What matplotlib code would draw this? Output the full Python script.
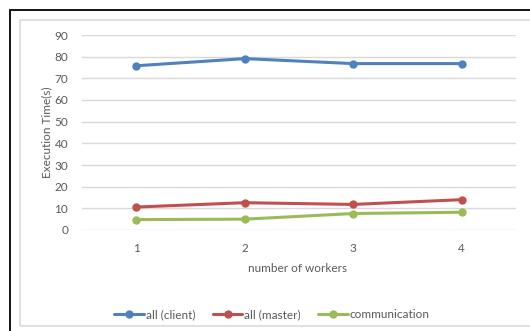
import matplotlib
matplotlib.use('Agg')
import matplotlib.pyplot as plt
from matplotlib.patches import Rectangle

# Execution time per number of workers
workers = [1, 2, 3, 4]
worker_labels = ['1', '2', '3', '4']
all_client = [75.8, 79.1, 76.8, 76.8]
all_master = [10.6, 12.6, 11.8, 14.0]
communication = [4.8, 5.0, 7.6, 8.2]
y_ticks = [0, 10, 20, 30, 40, 50, 60, 70, 80, 90]

plt.rcParams['font.family'] = ['Lato', 'DejaVu Sans']

W, H = 530, 331
fig = plt.figure(figsize=(W / 100, H / 100), dpi=100)

# chart frame: black outer border and light inner border
fig.patches.append(Rectangle((10 / W, -0.2), 1.2, (H - 10) / H + 0.2,
                             transform=fig.transFigure, fill=False,
                             edgecolor='black', linewidth=1.3))
fig.patches.append(Rectangle((19.5 / W, 5.5 / H), 1.2, (H - 25) / H,
                             transform=fig.transFigure, fill=False,
                             edgecolor='#d9d9d9', linewidth=1.2))

ax = fig.add_axes([82 / W, (H - 230) / H, (516 - 82) / W, (230 - 35) / H])

series = [
    (all_client, '#4f81bd', 'all (client)'),
    (all_master, '#c0504d', 'all (master)'),
    (communication, '#9bbb59', 'communication'),
]
for values, color, label in series:
    ax.plot(workers, values, color=color, linewidth=2.2, marker='o',
            markersize=5, label=label, solid_capstyle='round')

ax.set_xlim(0.5, 4.5)
ax.set_ylim(0, 90)
ax.set_yticks(y_ticks)
ax.set_xticks(workers)
ax.set_xticklabels(worker_labels)
ax.grid(axis='y', color='#d9d9d9', linewidth=1)
ax.set_axisbelow(True)
for s in ax.spines.values():
    s.set_visible(False)
ax.tick_params(length=0, labelsize=8.5, labelcolor='#595959')
ax.tick_params(axis='y', pad=10)
ax.tick_params(axis='x', pad=9)

fig.text(47 / W, (H - 132) / H, 'Execution Time(s)', rotation=90,
         ha='center', va='center', fontsize=8.5, color='#595959')
fig.text(297 / W, (H - 268) / H, 'number of workers',
         ha='center', va='center', fontsize=8.5, color='#595959')

leg = fig.legend(loc='center', bbox_to_anchor=(272 / W, (H - 315) / H),
                 ncol=3, frameon=False, fontsize=8.5, handlelength=2.5,
                 handletextpad=0.15, columnspacing=1.5)
for t in leg.get_texts():
    t.set_color('#595959')

fig.savefig('out.png', dpi=100)
